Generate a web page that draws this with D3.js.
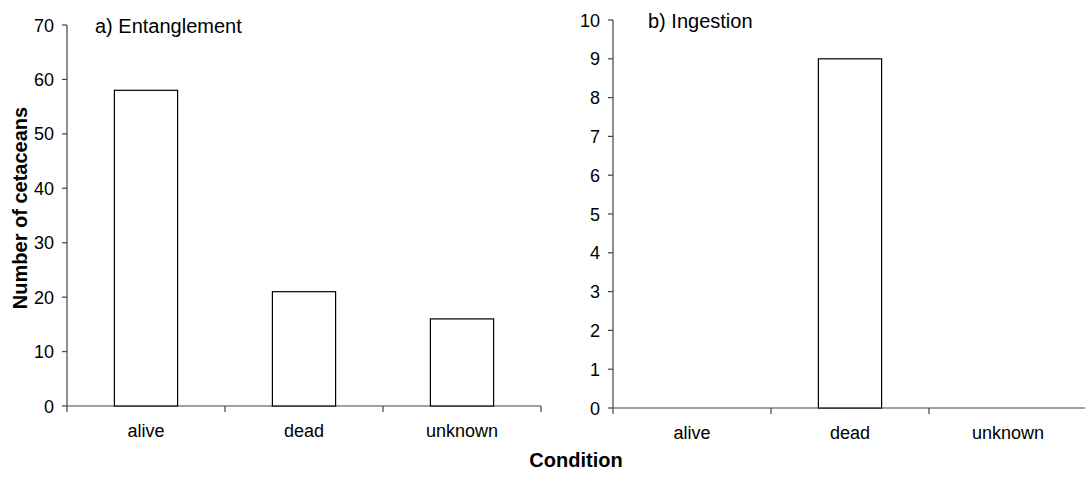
<!DOCTYPE html>
<html>
<head>
<meta charset="utf-8">
<script src="https://cdn.jsdelivr.net/npm/d3@7"></script>
<style>
  body { margin: 0; background: #fff; }
  svg text { font-family: "Liberation Sans", Arial, sans-serif; fill: #000; }
</style>
</head>
<body>
<svg id="chart" width="1085" height="477"></svg>
<script>
'use strict';

// data
const categories = ['alive', 'dead', 'unknown'];
const entanglement = [58, 21, 16];
const ingestion = [0, 9, 0];
const ticksA = [0, 10, 20, 30, 40, 50, 60, 70];
const ticksB = [0, 1, 2, 3, 4, 5, 6, 7, 8, 9, 10];

const svg = d3.select('#chart');
const axisColor = '#444';

/**
 * Draws one panel
 */
function drawPanel(opt) {
  const g = svg.append('g');
  const x = d3.scaleBand()
    .domain(categories)
    .range([opt.x0, opt.x1])
    .paddingInner(0.6)
    .paddingOuter(0.3);
  const y = d3.scaleLinear().domain([0, opt.max]).range([opt.y0, opt.y1]);

  // y axis
  g.append('line')
    .attr('x1', opt.x0).attr('x2', opt.x0)
    .attr('y1', y(0)).attr('y2', y(opt.max))
    .attr('stroke', axisColor).attr('stroke-width', 1.2);
  g.selectAll('line.ytick').data(opt.ticks).enter()
    .append('line')
    .attr('class', 'ytick')
    .attr('x1', opt.x0 - 5).attr('x2', opt.x0)
    .attr('y1', d => y(d)).attr('y2', d => y(d))
    .attr('stroke', axisColor).attr('stroke-width', 1.2);
  g.selectAll('text.ylab').data(opt.ticks).enter()
    .append('text')
    .attr('class', 'ylab')
    .attr('x', opt.x0 - 13)
    .attr('y', d => y(d) + 6.5)
    .attr('text-anchor', 'end')
    .style('font-size', '18px')
    .text(d => d);

  // x axis
  g.append('line')
    .attr('x1', opt.x0).attr('x2', opt.x1)
    .attr('y1', y(0)).attr('y2', y(0))
    .attr('stroke', axisColor).attr('stroke-width', 1.2);
  const step = x.step();
  g.selectAll('line.xtick').data(d3.range(categories.length + 1)).enter()
    .append('line')
    .attr('class', 'xtick')
    .attr('x1', i => opt.x0 + i * step).attr('x2', i => opt.x0 + i * step)
    .attr('y1', y(0)).attr('y2', y(0) + 6)
    .attr('stroke', axisColor).attr('stroke-width', 1.2);
  g.selectAll('text.xlab').data(categories).enter()
    .append('text')
    .attr('class', 'xlab')
    .attr('x', d => x(d) + x.bandwidth() / 2)
    .attr('y', y(0) + 31)
    .attr('text-anchor', 'middle')
    .style('font-size', '18px')
    .text(d => d);

  // bars
  const data = categories.map((c, i) => ({ cat: c, v: opt.values[i] }))
    .filter(d => d.v > 0);
  g.selectAll('rect.bar').data(data).enter()
    .append('rect')
    .attr('class', 'bar')
    .attr('x', d => x(d.cat))
    .attr('width', x.bandwidth())
    .attr('y', d => y(d.v))
    .attr('height', d => y(0) - y(d.v))
    .attr('fill', '#fff')
    .attr('stroke', '#000')
    .attr('stroke-width', 1.2);

  // title
  g.append('text')
    .attr('x', opt.titleX)
    .attr('y', opt.titleY)
    .style('font-size', '20px')
    .text(opt.title);
}

drawPanel({
  x0: 67, x1: 541, y0: 406, y1: 25, max: 70,
  ticks: ticksA, values: entanglement,
  title: 'a) Entanglement', titleX: 95, titleY: 33
});

drawPanel({
  x0: 613, x1: 1087, y0: 408, y1: 20, max: 10,
  ticks: ticksB, values: ingestion,
  title: 'b) Ingestion', titleX: 648, titleY: 28
});

// axis titles
svg.append('text')
  .attr('transform', 'translate(27,208) rotate(-90)')
  .attr('text-anchor', 'middle')
  .style('font-size', '20px')
  .style('font-weight', 'bold')
  .text('Number of cetaceans');

svg.append('text')
  .attr('x', 576)
  .attr('y', 467)
  .attr('text-anchor', 'middle')
  .style('font-size', '20px')
  .style('font-weight', 'bold')
  .text('Condition');
</script>
</body>
</html>
